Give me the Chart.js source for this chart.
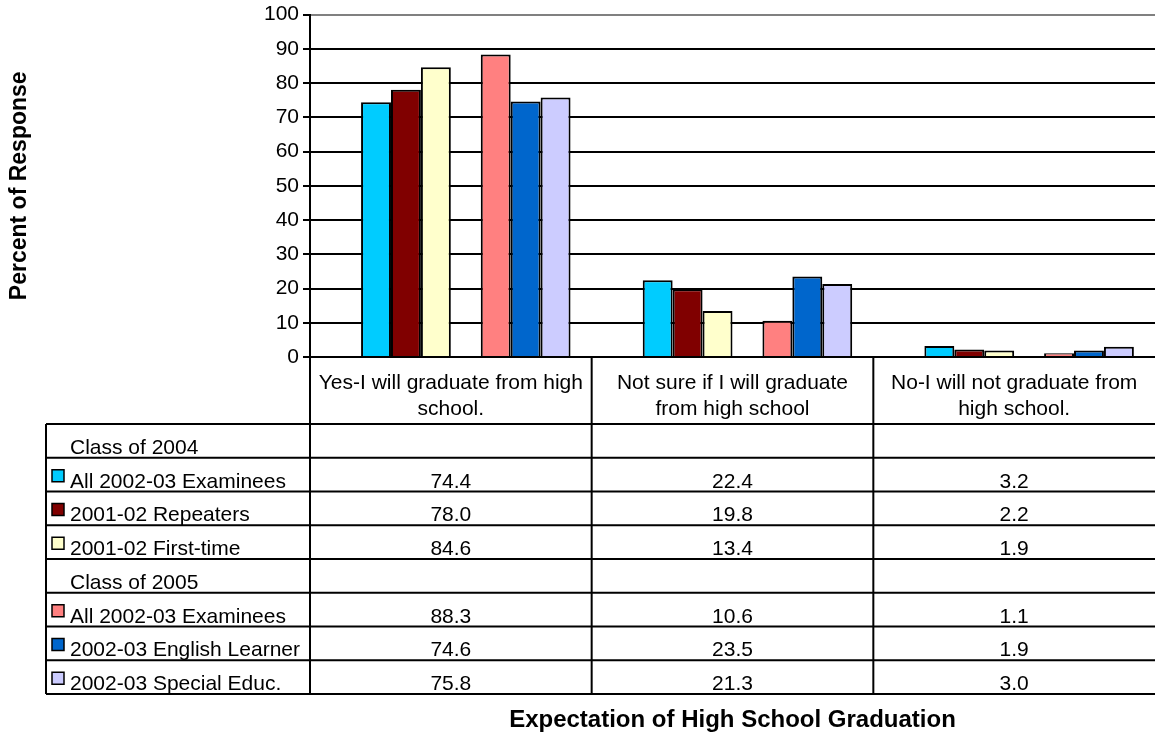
<!DOCTYPE html>
<html>
<head>
<meta charset="utf-8">
<script src="https://cdn.jsdelivr.net/npm/chart.js@4/dist/chart.umd.min.js"></script>
<style>
	body { margin: 0; background: #fff; }
	canvas { display: block; }
</style>
</head>
<body>
<canvas id="myChart" width="1155" height="736"></canvas>
<script>
(() => {
	'use strict'

	const categories = [
		['Yes-I will graduate from high', 'school.'],
		['Not sure if I will graduate', 'from high school'],
		['No-I will not graduate from', 'high school.']
	];
	const rowLabels = [
		'Class of 2004',
		'All 2002-03 Examinees',
		'2001-02 Repeaters',
		'2001-02 First-time',
		'Class of 2005',
		'All 2002-03 Examinees',
		'2002-03 English Learner',
		'2002-03 Special Educ.'
	];
	const colors = [null, '#00CCFF', '#800000', '#FFFFCC', null, '#FF8080', '#0066CC', '#CCCCFF'];

	const class2004Header = [null, null, null];
	const all2004 = [74.4, 22.4, 3.2];
	const repeaters2004 = [78.0, 19.8, 2.2];
	const firstTime2004 = [84.6, 13.4, 1.9];
	const class2005Header = [null, null, null];
	const all2005 = [88.3, 10.6, 1.1];
	const englishLearner2005 = [74.6, 23.5, 1.9];
	const specialEduc2005 = [75.8, 21.3, 3.0];

	const seriesValues = [class2004Header, all2004, repeaters2004, firstTime2004,
		class2005Header, all2005, englishLearner2005, specialEduc2005];

	const yTicks = [0, 10, 20, 30, 40, 50, 60, 70, 80, 90, 100];

	const fontFamily = 'Arial, "Liberation Sans", sans-serif';
	const textSize = 21;

	Chart.defaults.font.family = fontFamily;
	Chart.defaults.color = '#000';

	// data table under the plot, lined up with the category columns
	const dataTable = {
		id: 'dataTable',
		afterDraw(chart) {
			const c = chart.ctx;
			const x = chart.scales.x;
			const area = chart.chartArea;
			const tableLeft = 46;
			const labelCellH = 67;
			const rowH = 33.75;
			const tableTop = area.bottom + labelCellH;
			const tableBottom = tableTop + rowH * rowLabels.length;

			const cols = [x.left];
			for (let i = 0; i < categories.length - 1; i++) {
				cols.push((x.getPixelForValue(i) + x.getPixelForValue(i + 1)) / 2);
			}
			cols.push(x.right);

			c.save();
			c.strokeStyle = '#000';
			c.lineWidth = 2;
			c.beginPath();
			// vertical lines
			c.moveTo(tableLeft, tableTop);
			c.lineTo(tableLeft, tableBottom);
			for (let i = 0; i < cols.length - 1; i++) {
				c.moveTo(cols[i], area.bottom);
				c.lineTo(cols[i], tableBottom);
			}
			// horizontal lines
			for (let r = 0; r <= rowLabels.length; r++) {
				const y = tableTop + r * rowH;
				c.moveTo(tableLeft, y);
				c.lineTo(x.right, y);
			}
			c.stroke();

			c.font = textSize + 'px ' + fontFamily;
			c.fillStyle = '#000';
			c.textBaseline = 'alphabetic';
			rowLabels.forEach((label, r) => {
				const rowTop = tableTop + r * rowH;
				const baseY = rowTop + rowH - 4;
				c.textAlign = 'left';
				c.fillStyle = '#000';
				c.fillText(label, tableLeft + 24, baseY);
				if (colors[r]) {
					c.fillStyle = colors[r];
					c.fillRect(52, rowTop + 12, 12, 12);
					c.lineWidth = 1.5;
					c.strokeRect(52, rowTop + 12, 12, 12);
					c.fillStyle = '#000';
					c.textAlign = 'center';
					seriesValues[r].forEach((v, i) => {
						c.fillText(v.toFixed(1), x.getPixelForValue(i), baseY);
					});
				}
			});
			c.restore();
		}
	};

	const ctx = document.getElementById('myChart');

	new Chart(ctx, {
		type: 'bar',
		data: {
			labels: categories,
			datasets: seriesValues.map((vals, i) => ({
				label: rowLabels[i],
				data: vals,
				backgroundColor: colors[i] || 'transparent',
				borderColor: '#000',
				borderWidth: 2,
				categoryPercentage: 0.85,
				barPercentage: 1.0
			}))
		},
		options: {
			responsive: false,
			animation: false,
			layout: {
				padding: { left: 6, right: 0, top: 14, bottom: 1 }
			},
			plugins: {
				legend: { display: false },
				tooltip: { enabled: false }
			},
			scales: {
				x: {
					grid: {
						display: true,
						drawOnChartArea: false,
						drawTicks: false
					},
					border: { display: true, color: '#000', width: 2 },
					ticks: {
						maxRotation: 0,
						autoSkip: false,
						padding: 14,
						font: { size: textSize, lineHeight: 1.2 }
					},
					title: {
						display: true,
						text: 'Expectation of High School Graduation',
						font: { size: 24, weight: 'bold' },
						padding: { top: 0, bottom: 0 }
					},
					afterFit(scale) {
						scale.height = 736 - 1 - 357;
					}
				},
				y: {
					min: 0,
					max: 100,
					afterBuildTicks(scale) {
						scale.ticks = yTicks.map(v => ({ value: v }));
					},
					grid: {
						color: (c) => (c.tick && c.tick.value === 100 ? '#808080' : '#000'),
						tickColor: '#000',
						lineWidth: 2,
						tickLength: 7
					},
					border: { display: true, color: '#000', width: 2 },
					ticks: {
						padding: 4,
						font: { size: textSize, lineHeight: 1.0 }
					},
					title: {
						display: true,
						text: 'Percent of Response',
						font: { size: 23, weight: 'bold' },
						padding: { top: 0, bottom: 0 }
					},
					afterFit(scale) {
						scale.width = 310 - 6;
					}
				}
			}
		},
		plugins: [dataTable]
	});
})()
</script>
</body>
</html>
